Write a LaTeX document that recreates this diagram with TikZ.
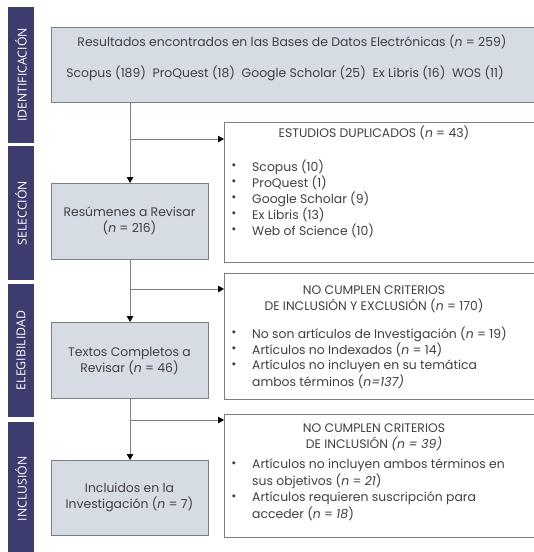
\documentclass[tikz,border=0pt]{standalone}
\usepackage{fontspec}
\setmainfont{Poppins}
\newfontfamily\sidefont{Open Sans}
\usetikzlibrary{arrows.meta}
\definecolor{navy}{HTML}{3C3D6E}
\definecolor{boxfill}{HTML}{D6DCE4}
\definecolor{edge}{HTML}{7F7F7F}
\definecolor{txtc}{HTML}{404040}
\tikzset{
  sidebar/.style={fill=navy, draw=none, rotate=90, minimum height=26pt, inner sep=0pt, text=white, font=\sidefont\fontsize{12.3}{14}\selectfont},
  lbox/.style={draw=edge, line width=1.1pt, fill=boxfill, inner sep=0pt, anchor=north west},
  rbox/.style={draw=edge, line width=1.1pt, fill=white, inner sep=0pt, anchor=north west},
  txt/.style={text=txtc, inner sep=0pt, font=\fontsize{12.4}{16}\selectfont},
  ltxt/.style={txt, anchor=west},
  bul/.style={txt, anchor=center},
  conn/.style={draw=edge, line width=1pt},
  arr/.style={conn, -{Triangle[length=6pt,width=6.5pt,fill=black,color=black]}}
}
\newcommand{\nn}{\textit{n}}
\begin{document}
\begin{tikzpicture}[x=1pt,y=-1pt]
\useasboundingbox (0,0) rectangle (534,552);
\clip (0,0) rectangle (534,552);
\fill[white] (0,0) rectangle (534,552);
% sidebars
\node[sidebar, minimum width=136pt] (s1) at (21,75) {IDENTIFICACIÓN};
\node[sidebar, minimum width=134pt] (s2) at (21,213) {SELECCIÓN};
\node[sidebar, minimum width=133pt] (s3) at (21,350.5) {ELEGIBILIDAD};
\node[sidebar, minimum width=134pt] (s4) at (21,489) {INCLUSIÓN};
% boxes
\node[lbox, minimum width=489pt, minimum height=75pt] (top) at (51,27) {};
\node[lbox, minimum width=157pt, minimum height=76pt] (res) at (51,183) {};
\node[lbox, minimum width=157pt, minimum height=76pt] (tex) at (51,322) {};
\node[lbox, minimum width=157pt, minimum height=75pt] (inc) at (51,460) {};
\node[rbox, minimum width=316pt, minimum height=140pt] (dup) at (224,122) {};
\node[rbox, minimum width=316pt, minimum height=126pt] (ex1) at (224,273) {};
\node[rbox, minimum width=316pt, minimum height=123pt] (ex2) at (224,414) {};
% connectors
\coordinate (j1) at (129.5,139);
\coordinate (j2) at (129.5,289);
\coordinate (j3) at (129.5,420);
\draw[arr] (top.south -| res.north) -- (res.north);
\draw[arr] (j1) -- (j1 -| dup.west);
\draw[arr] (res.south) -- (tex.north);
\draw[arr] (j2) -- (j2 -| ex1.west);
\draw[arr] (tex.south) -- (inc.north);
\draw[arr] (j3) -- (j3 -| ex2.west);
% top box text
\node[txt] (t1) at (292,42) {Resultados encontrados en las Bases de Datos Electrónicas (\nn{} = 259)};
\node[txt] (t2) at (285,73) {Scopus (189)\ \ ProQuest (18)\ \ Google Scholar (25)\ \ Ex Libris (16)\ \ WOS (11)};
% left box text
\node[txt, align=center] (rt) at (129.5,221) {Resúmenes a Revisar\\(\nn{} = 216)};
\node[txt, align=center] (tt) at (129.5,361) {Textos Completos a\\Revisar (\nn{} = 46)};
\node[txt, align=center] (it) at (129.5,497) {Incluidos en la\\Investigación (\nn{} = 7)};
% dup box
\node[txt] (dh) at (374,133) {ESTUDIOS DUPLICADOS (\nn{} = 43)};
\node[bul] (db1) at (234,167) {•};
\node[ltxt] (dl1) at (252,167) {Scopus (10)};
\node[bul] (db2) at (234,183) {•};
\node[ltxt] (dl2) at (252,183) {ProQuest (1)};
\node[bul] (db3) at (234,199) {•};
\node[ltxt] (dl3) at (252,199) {Google Scholar (9)};
\node[bul] (db4) at (234,215) {•};
\node[ltxt] (dl4) at (252,215) {Ex Libris (13)};
\node[bul] (db5) at (234,231) {•};
\node[ltxt] (dl5) at (252,231) {Web of Science (10)};
% ex1 box
\node[txt] (e1h1) at (374,290) {NO CUMPLEN CRITERIOS};
\node[txt] (e1h2) at (374,306) {DE INCLUSIÓN Y EXCLUSIÓN (\nn{} = 170)};
\node[bul] (e1b1) at (234,334) {•};
\node[ltxt] (e1l1) at (252,334) {No son artículos de Investigación (\nn{} = 19)};
\node[bul] (e1b2) at (234,350) {•};
\node[ltxt] (e1l2) at (252,350) {Artículos no Indexados (\nn{} = 14)};
\node[bul] (e1b3) at (234,366) {•};
\node[ltxt] (e1l3) at (252,366) {Artículos no incluyen en su temática};
\node[ltxt] (e1l4) at (252,382) {ambos términos (\nn{}\textit{=137)}};
% ex2 box
\node[txt] (e2h1) at (374,428) {NO CUMPLEN CRITERIOS};
\node[txt] (e2h2) at (374,444) {DE INCLUSIÓN \textit{(n = 39)}};
\node[bul] (e2b1) at (234,465) {•};
\node[ltxt] (e2l1) at (252,465) {Artículos no incluyen ambos términos en};
\node[ltxt] (e2l2) at (252,481) {sus objetivos (\nn{} = \textit{21})};
\node[bul] (e2b2) at (234,498) {•};
\node[ltxt] (e2l3) at (252,498) {Artículos requieren suscripción para};
\node[ltxt] (e2l4) at (252,514) {acceder (\nn{} = \textit{18})};
\end{tikzpicture}
\end{document}
